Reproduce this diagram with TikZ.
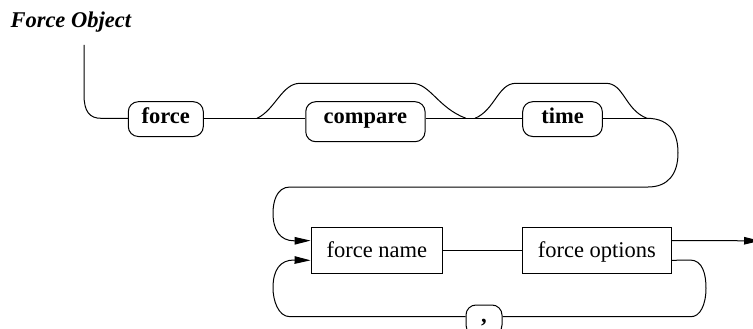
\documentclass[tikz,border=0pt]{standalone}
\usepackage{fontspec}
\setmainfont{Liberation Serif}
\usetikzlibrary{arrows.meta,calc}
\begin{document}
\begin{tikzpicture}[x=1pt,y=-1pt,line width=1pt,
  every node/.style={font=\fontsize{22.5}{27}\selectfont},
  kw/.style={draw, rounded corners=10pt, font=\fontsize{22.5}{27}\selectfont\bfseries,
    inner xsep=0pt, inner ysep=0pt, text height=22.3pt, text depth=12.5pt, anchor=base},
  ntbox/.style={draw, minimum height=46pt, inner xsep=0pt, inner ysep=0pt,
    text height=15pt, text depth=0pt},
  arr/.style={-{Triangle[length=16pt,width=7.5pt]}}]
\path[use as bounding box, clip] (0,0) rectangle (753,329);

\node[font=\fontsize{22.5}{27}\selectfont\bfseries\itshape, anchor=base west, inner sep=0pt] (title) at (10,28) {Force Object};

\coordinate (ly) at (0,118.3);
\coordinate (lb) at (0,316.7);
\coordinate (start) at (84,45);
\node[kw, minimum width=75pt] (force) at (165.8,124) {force};
\node[kw, minimum width=119.3pt, text depth=17.7pt] (compare) at (365.4,124) {compare};
\node[kw, minimum width=79.6pt] (time) at (562.5,124) {time};

\node[ntbox, minimum width=131.7pt] (fname) at (376.9,250) {force name};
\node[ntbox, minimum width=148.3pt] (fopt) at (596.9,250) {force options};

\node[draw, rounded corners=10pt, minimum width=36pt, minimum height=30pt, inner sep=0pt,
  text height=4pt, text depth=0pt, font=\fontsize{22.5}{27}\selectfont\bfseries] (comma) at (484,320) {,};

\coordinate (out) at (760,240.8);
\coordinate (inA) at ($(fname.north west)!0.3!(fname.south west)$);
\coordinate (inB) at ($(fname.north west)!0.72!(fname.south west)$);
\coordinate (exA) at ($(fopt.north east)!0.3!(fopt.south east)$);
\coordinate (exB) at ($(fopt.north east)!0.72!(fopt.south east)$);

% entry
\draw (start) -- (84,95) .. controls (84,112) and (90,118.3) .. (101,118.3) -- (force.west |- ly);
% main line
\draw (force.east |- ly) -- (compare.west |- ly);
\draw (compare.east |- ly) -- (time.west |- ly);
\draw (time.east |- ly) -- (647,118.3);
% bypasses
\draw (257,118.3) .. controls (275,110) and (282,83.3) .. (300,83.3) -- (412,83.3)
  .. controls (430,83.3) and (438,108) .. (466,118.3);
\draw (475,118.3) .. controls (495,110) and (498,83.3) .. (516,83.3) -- (606,83.3)
  .. controls (624,83.3) and (625,110) .. (647,118.3);
% return loop to force name
\draw[arr] (647,118.3) .. controls (672,118.3) and (678,136) .. (678,153)
  .. controls (678,174) and (668,187) .. (648,187) -- (290,187)
  .. controls (276,187) and (273,203) .. (273,213)
  .. controls (273,230) and (280,240.8) .. (294,240.8) -- (inA);
% between rect boxes
\draw (fname) -- (fopt);
% exit
\draw[arr] (exA) -- (out);
% repeat loop
\draw (exB) -- (690,260) .. controls (703,260) and (706,275) .. (706,288)
  .. controls (706,305) and (700,316.7) .. (691,316.7) -- (comma.east |- lb);
\draw[arr] (comma.west |- lb) -- (290,316.7) .. controls (278,316.7) and (273,300) .. (273,288)
  .. controls (273,270) and (280,260) .. (294,260) -- (inB);
\end{tikzpicture}
\end{document}
